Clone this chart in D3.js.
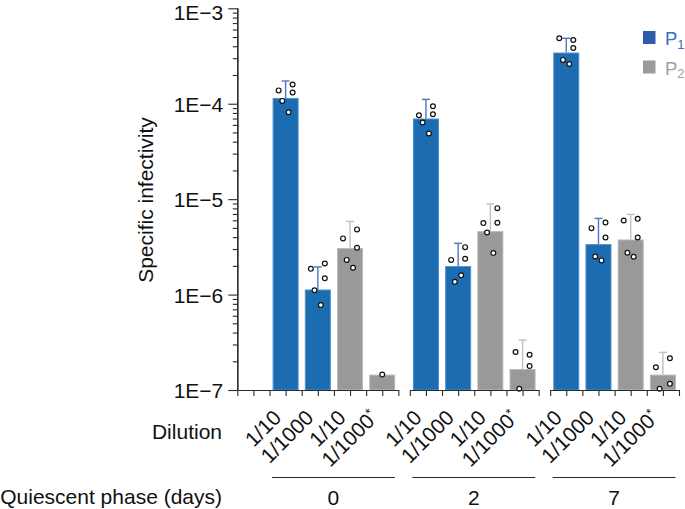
<!DOCTYPE html>
<html>
<head>
<meta charset="utf-8">
<script src="https://cdn.jsdelivr.net/npm/d3@7"></script>
<style>
  html, body { margin: 0; padding: 0; background: #fff; }
  svg { display: block; font-family: "Liberation Sans", Arial, Helvetica, sans-serif; }
</style>
</head>
<body>
<svg id="chart" width="685" height="509"></svg>
<script>
// ---------------- DATA ----------------
const groups = ["0", "2", "7"];                       // quiescent phase (days)
const dilutions = ["1/10", "1/1000", "1/10", "1/1000"];
const starred = [false, false, false, true];
const seriesOf = ["P1", "P1", "P2", "P2"];
const yTickValues = [1e-7, 1e-6, 1e-5, 1e-4, 1e-3];
const yTickLabels = ["1E\u22127", "1E\u22126", "1E\u22125", "1E\u22124", "1E\u22123"];

// bar heights (means)
const meanDay0 = [1.15e-4, 1.13e-6, 3.07e-6, 1.45e-7];
const meanDay2 = [7.0e-5, 1.99e-6, 4.62e-6, 1.66e-7];
const meanDay7 = [3.44e-4, 3.38e-6, 3.78e-6, 1.45e-7];

// upper end of error bars (null = none)
const errDay0 = [1.73e-4, 1.95e-6, 5.84e-6, null];
const errDay2 = [1.11e-4, 3.44e-6, 8.93e-6, 3.34e-7];
const errDay7 = [4.85e-4, 6.28e-6, 6.92e-6, 2.48e-7];

// replicate points
const ptsDay0 = [
  [1.38e-4, 1.59e-4, 1.31e-4, 1.07e-4, 8.15e-5],
  [1.86e-6, 2.12e-6, 1.48e-6, 1.11e-6, 7.76e-7],
  [3.88e-6, 4.82e-6, 3.09e-6, 2.31e-6, 1.91e-6],
  [1.45e-7]
];
const ptsDay2 = [
  [7.58e-5, 9.42e-5, 7.76e-5, 6.35e-5, 4.87e-5],
  [2.31e-6, 3.14e-6, 2.37e-6, 1.36e-6, 1.59e-6],
  [5.61e-6, 8.05e-6, 5.65e-6, 4.48e-6, 2.72e-6],
  [2.50e-7, 2.34e-7, 1.78e-7, 1.03e-7]
];
const ptsDay7 = [
  [4.85e-4, 4.66e-4, 3.84e-4, 2.88e-4, 2.61e-4],
  [4.97e-6, 5.70e-6, 3.97e-6, 2.51e-6, 2.28e-6],
  [5.98e-6, 6.22e-6, 3.97e-6, 2.74e-6, 2.49e-6],
  [1.73e-7, 2.15e-7, 1.16e-7, 1.03e-7]
];

const legendLabels = ["P", "P"];
const legendSubs = ["1", "2"];

// ---------------- BUILD TABLE ----------------
const means = [meanDay0, meanDay2, meanDay7];
const errs = [errDay0, errDay2, errDay7];
const pts = [ptsDay0, ptsDay2, ptsDay7];
const bars = [];
groups.forEach((g, gi) => {
  dilutions.forEach((d, di) => {
    bars.push({ g: gi, i: di, series: seriesOf[di], mean: means[gi][di], err: errs[gi][di], pts: pts[gi][di] });
  });
});

// ---------------- STYLE ----------------
const colors = {
  P1: { fill: "#1b6cb0", edge: "#4f8fcc", err: "#4f76c6", legend: "#2f5ba8", text: "#3a6cc6" },
  P2: { fill: "#999999", edge: "#b8b8b8", err: "#bfbfbf", legend: "#9b9b9b", text: "#a0a0a0" }
};
const axisColor = "#2a2a2a";
const fontSize = 21;
const repOffset = [-7, 7, 7, -3.3, 3];   // horizontal dodge by replicate index (px)

// ---------------- SCALES ----------------
const svg = d3.select("#chart");
const yTop = 8.3, yBot = 390;
const y = d3.scaleLog().domain([1e-7, 1e-3]).range([yBot, yTop]);

const gapU = 0.357;                               // gap between groups in slot units
const totalU = 1 + 4 * groups.length + (groups.length - 1) * gapU;
const x = d3.scaleLinear().domain([0, totalU]).range([237.3, 679]);
const slotW = x(1) - x(0);
const slotU = (gi, di) => 1 + 4 * gi + di + gi * gapU;
const segStartU = gi => gi === 0 ? 0 : 1 + 4 * gi + gi * gapU;
const segEndU = gi => 1 + 4 * gi + 4 + gi * gapU;
const barPad = 3.1;

// ---------------- BARS ----------------
svg.append("g").selectAll("rect").data(bars).join("rect")
  .attr("x", d => x(slotU(d.g, d.i)) + barPad + 0.5)
  .attr("width", slotW - 2 * barPad - 1)
  .attr("y", d => y(d.mean) + 0.5)
  .attr("height", d => yBot - y(d.mean) - 0.5)
  .attr("fill", d => colors[d.series].fill)
  .attr("stroke", d => colors[d.series].edge)
  .attr("stroke-width", 1);

// ---------------- ERROR BARS ----------------
const eb = svg.append("g").selectAll("g").data(bars.filter(d => d.err)).join("g")
  .attr("stroke", d => colors[d.series].err)
  .attr("stroke-width", 1.4)
  .attr("fill", "none");
eb.append("line")
  .attr("x1", d => x(slotU(d.g, d.i) + 0.5)).attr("x2", d => x(slotU(d.g, d.i) + 0.5))
  .attr("y1", d => y(d.mean)).attr("y2", d => y(d.err));
eb.append("line")
  .attr("x1", d => x(slotU(d.g, d.i) + 0.5) - 4).attr("x2", d => x(slotU(d.g, d.i) + 0.5) + 4)
  .attr("y1", d => y(d.err)).attr("y2", d => y(d.err));

// ---------------- POINTS ----------------
const pointData = [];
bars.forEach(b => b.pts.forEach((v, k) => pointData.push({
  cx: x(slotU(b.g, b.i) + 0.5) + (b.pts.length === 1 ? 0 : repOffset[k]),
  v
})));
svg.append("g").selectAll("circle").data(pointData).join("circle")
  .attr("cx", d => d.cx).attr("cy", d => y(d.v))
  .attr("r", 2.4)
  .attr("fill", "#fff").attr("stroke", "#111").attr("stroke-width", 1.2);

// ---------------- Y AXIS ----------------
const minorTicks = [];
for (let e = -7; e < -3; e++) for (let m = 2; m <= 9; m++) minorTicks.push(m * Math.pow(10, e));

const yAxisMinor = svg.append("g").attr("transform", `translate(${x(0)},0)`)
  .call(d3.axisLeft(y).tickValues(minorTicks).tickSize(4.5).tickFormat(""));
const yAxis = svg.append("g").attr("transform", `translate(${x(0)},0)`)
  .call(d3.axisLeft(y).tickValues(yTickValues).tickSize(9).tickPadding(5)
    .tickFormat((d, i) => yTickLabels[i]));
[yAxisMinor, yAxis].forEach(a => {
  a.select(".domain").attr("stroke", axisColor).attr("stroke-width", 1.2).attr("d", `M0.5,${yTop}V${yBot}`);
  a.selectAll(".tick line").attr("stroke", axisColor).attr("stroke-width", 1.1);
});
yAxis.selectAll(".tick text").attr("font-size", fontSize).attr("fill", "#111")
  .attr("dy", d => d === 1e-3 ? "0.52em" : "0.37em")
  .attr("font-family", "Liberation Sans, Arial, sans-serif");

svg.append("text")
  .attr("transform", `translate(153,200) rotate(-90)`)
  .attr("text-anchor", "middle")
  .attr("font-size", fontSize).attr("fill", "#111")
  .text("Specific infectivity");

// ---------------- X AXIS (segmented) ----------------
groups.forEach((g, gi) => {
  const s = segStartU(gi), e = segEndU(gi);
  const ticks = d3.range(s, e + 0.001, 0.5);
  const xs = d3.scaleLinear().domain([s, e]).range([x(s), x(e)]);
  const ax = svg.append("g").attr("transform", `translate(0,${yBot})`)
    .call(d3.axisBottom(xs).tickValues(ticks).tickSize(6).tickSizeOuter(0).tickFormat(""));
  ax.select(".domain").attr("stroke", axisColor).attr("stroke-width", 1.2);
  ax.selectAll(".tick line").attr("stroke", axisColor).attr("stroke-width", 1.1);
});

// dilution labels
const lab = svg.append("g").selectAll("text").data(bars).join("text")
  .attr("transform", d => {
    const cx = x(slotU(d.g, d.i) + 0.5) - 3;
    return `translate(${cx},419) rotate(-45)`;
  })
  .attr("text-anchor", "end")
  .attr("font-size", fontSize).attr("fill", "#111");
lab.append("tspan").text(d => dilutions[d.i]);
lab.filter(d => starred[d.i]).append("tspan")
  .attr("font-size", 13).attr("dy", "-0.55em").attr("fill", "#111").text("*");

svg.append("text").attr("x", 222).attr("y", 439).attr("text-anchor", "end")
  .attr("font-size", fontSize).attr("fill", "#111").text("Dilution");

// group underlines + labels
groups.forEach((g, gi) => {
  const x1 = x(slotU(gi, 0)) + 2.5, x2 = x(slotU(gi, 3) + 1) - 3.5;
  svg.append("line").attr("x1", x1).attr("x2", x2).attr("y1", 477.5).attr("y2", 477.5)
    .attr("stroke", axisColor).attr("stroke-width", 1.1);
  svg.append("text").attr("x", (x1 + x2) / 2).attr("y", 504.5).attr("text-anchor", "middle")
    .attr("font-size", fontSize).attr("fill", "#111").text(g);
});
svg.append("text").attr("x", 222).attr("y", 504).attr("text-anchor", "end")
  .attr("font-size", fontSize).attr("fill", "#111").text("Quiescent phase (days)");

// ---------------- LEGEND ----------------
["P1", "P2"].forEach((s, k) => {
  const top = 31 + k * 29.5;
  svg.append("rect").attr("x", 643).attr("y", top).attr("width", 12.5).attr("height", 13)
    .attr("fill", colors[s].legend);
  const t = svg.append("text").attr("x", 665).attr("y", top + 14)
    .attr("font-size", 18.5).attr("fill", colors[s].text);
  t.append("tspan").text(legendLabels[k]);
  t.append("tspan").attr("font-size", 13).attr("dy", "0.3em").text(legendSubs[k]);
});
</script>
</body>
</html>
